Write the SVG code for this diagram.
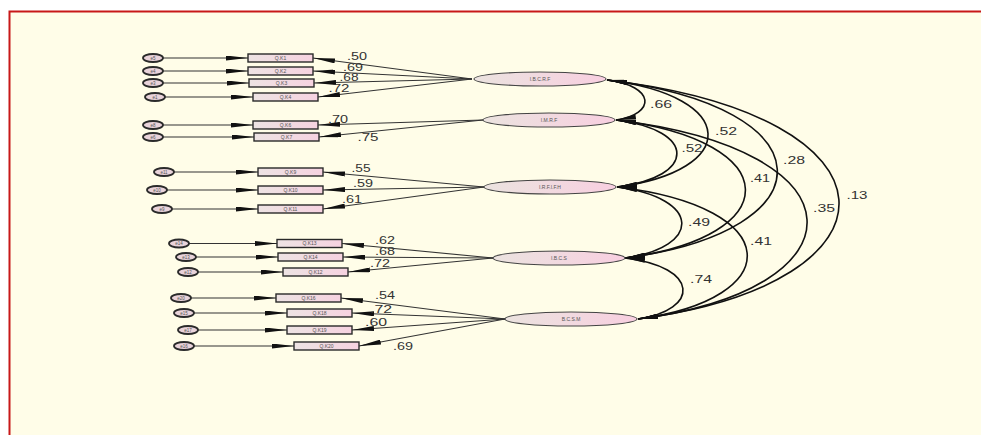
<svg xmlns="http://www.w3.org/2000/svg" width="981" height="435" viewBox="0 0 981 435">
<style>
.err{fill:#E9D3DA;stroke:#2a2a2a;stroke-width:1.8}
.obs{fill:url(#gb);stroke:#2a2a2a;stroke-width:1.4}
.lat{fill:url(#gl);stroke:#444;stroke-width:1.1}
.t{font-family:"Liberation Sans",Arial,sans-serif;fill:#555;text-anchor:middle}
.te{font-size:4.5px}
.tb{font-size:5px}
.tl{font-size:5px}
.c{font-family:"Liberation Sans",Arial,sans-serif;font-size:10px;fill:#333;text-anchor:middle}
.ln{stroke:#333;stroke-width:1.1;fill:none;marker-end:url(#ah)}
.arc{stroke:#111;stroke-width:1.6;fill:none;marker-start:url(#ah2);marker-end:url(#ah2)}
</style>
<defs>
<linearGradient id="gb" x1="0" y1="0" x2="1" y2="0"><stop offset="0" stop-color="#EDE3E3"/><stop offset="1" stop-color="#F6D2E0"/></linearGradient>
<linearGradient id="gl" x1="0" y1="0" x2="1" y2="0"><stop offset="0" stop-color="#EBE3DF"/><stop offset="1" stop-color="#F8CFE0"/></linearGradient>
<marker id="ah" viewBox="0 0 22 5" refX="22" refY="2.5" markerWidth="22" markerHeight="5" markerUnits="userSpaceOnUse" orient="auto"><path d="M0,0 L22,2.5 L0,5 z" fill="#111"/></marker>
<marker id="ah2" viewBox="0 0 20 5" refX="20" refY="2.5" markerWidth="20" markerHeight="5" markerUnits="userSpaceOnUse" orient="auto-start-reverse"><path d="M0,0 L20,2.5 L0,5 z" fill="#111"/></marker>
</defs>
<rect x="0" y="0" width="981" height="435" fill="#ffffff"/>
<rect x="9.5" y="11.5" width="980" height="430" fill="#FFFDE8" stroke="#C81818" stroke-width="2"/>

<g id="connectors">
<line class="ln" x1="163" y1="58" x2="248" y2="58"/>
<line class="ln" x1="163" y1="71" x2="248" y2="71"/>
<line class="ln" x1="163" y1="83" x2="249" y2="83"/>
<line class="ln" x1="165" y1="97" x2="253" y2="97"/>
<line class="ln" x1="163" y1="125" x2="253" y2="125"/>
<line class="ln" x1="163" y1="137" x2="254" y2="137"/>
<line class="ln" x1="174" y1="172" x2="258" y2="172"/>
<line class="ln" x1="167" y1="190" x2="258" y2="190"/>
<line class="ln" x1="172" y1="209" x2="258" y2="209"/>
<line class="ln" x1="189" y1="243.5" x2="277" y2="243.5"/>
<line class="ln" x1="196" y1="257" x2="278" y2="257"/>
<line class="ln" x1="198" y1="272" x2="283" y2="272"/>
<line class="ln" x1="191" y1="298" x2="276" y2="298"/>
<line class="ln" x1="194" y1="313" x2="287" y2="313"/>
<line class="ln" x1="198" y1="330" x2="287" y2="330"/>
<line class="ln" x1="194" y1="346" x2="294" y2="346"/>

<line class="ln" x1="472" y1="79" x2="313" y2="58"/>
<line class="ln" x1="472" y1="79" x2="313" y2="71"/>
<line class="ln" x1="472" y1="79" x2="314" y2="83"/>
<line class="ln" x1="472" y1="79" x2="318" y2="97"/>
<line class="ln" x1="483" y1="120" x2="318" y2="125"/>
<line class="ln" x1="483" y1="120" x2="319" y2="137"/>
<line class="ln" x1="484" y1="187" x2="323" y2="172"/>
<line class="ln" x1="484" y1="187" x2="323" y2="190"/>
<line class="ln" x1="484" y1="187" x2="323" y2="209"/>
<line class="ln" x1="493" y1="258" x2="342" y2="243.5"/>
<line class="ln" x1="493" y1="258" x2="343" y2="257"/>
<line class="ln" x1="493" y1="258" x2="348" y2="272"/>
<line class="ln" x1="505" y1="319" x2="341" y2="298"/>
<line class="ln" x1="505" y1="319" x2="352" y2="313"/>
<line class="ln" x1="505" y1="319" x2="352" y2="330"/>
<line class="ln" x1="505" y1="319" x2="359" y2="346"/>

<path class="arc" d="M607,80 C656,86 656,114 616,120"/>
<path class="arc" d="M607,80 C740,96 740,171 617,187"/>
<path class="arc" d="M616,120 C697,130 697,177 617,187"/>
<path class="arc" d="M607,80 C831,107 831,231 625,258"/>
<path class="arc" d="M616,120 C787,141 787,237 625,258"/>
<path class="arc" d="M617,187 C702,198 702,247 625,258"/>
<path class="arc" d="M607,80 C911,116 911,283 638,319"/>
<path class="arc" d="M616,120 C867,150 867,289 638,319"/>
<path class="arc" d="M617,187 C787,207 787,299 638,319"/>
<path class="arc" d="M625,258 C700,267 700,310 638,319"/>
</g>

<g id="labels">
<text class="c" x="357" y="60" textLength="20" lengthAdjust="spacingAndGlyphs">.50</text>
<text class="c" x="353" y="71" textLength="20" lengthAdjust="spacingAndGlyphs">.69</text>
<text class="c" x="349" y="81" textLength="19" lengthAdjust="spacingAndGlyphs">.68</text>
<text class="c" x="339" y="92" textLength="21" lengthAdjust="spacingAndGlyphs">.72</text>
<text class="c" x="338" y="123" textLength="20" lengthAdjust="spacingAndGlyphs">.70</text>
<text class="c" x="368" y="141" textLength="21" lengthAdjust="spacingAndGlyphs">.75</text>
<text class="c" x="361" y="172" textLength="19" lengthAdjust="spacingAndGlyphs">.55</text>
<text class="c" x="363" y="187" textLength="20" lengthAdjust="spacingAndGlyphs">.59</text>
<text class="c" x="352" y="203" textLength="20" lengthAdjust="spacingAndGlyphs">.61</text>
<text class="c" x="385" y="244" textLength="20" lengthAdjust="spacingAndGlyphs">.62</text>
<text class="c" x="385" y="255" textLength="20" lengthAdjust="spacingAndGlyphs">.68</text>
<text class="c" x="380" y="267" textLength="20" lengthAdjust="spacingAndGlyphs">.72</text>
<text class="c" x="385" y="299" textLength="20" lengthAdjust="spacingAndGlyphs">.54</text>
<text class="c" x="381" y="313" textLength="22" lengthAdjust="spacingAndGlyphs">.72</text>
<text class="c" x="376" y="326" textLength="22" lengthAdjust="spacingAndGlyphs">.60</text>
<text class="c" x="403" y="350" textLength="20" lengthAdjust="spacingAndGlyphs">.69</text>
<text class="c" x="661" y="108" textLength="22" lengthAdjust="spacingAndGlyphs">.66</text>
<text class="c" x="726" y="135" textLength="22" lengthAdjust="spacingAndGlyphs">.52</text>
<text class="c" x="692" y="152" textLength="21" lengthAdjust="spacingAndGlyphs">.52</text>
<text class="c" x="794" y="164" textLength="22" lengthAdjust="spacingAndGlyphs">.28</text>
<text class="c" x="760" y="182" textLength="20" lengthAdjust="spacingAndGlyphs">.41</text>
<text class="c" x="857" y="199" textLength="21" lengthAdjust="spacingAndGlyphs">.13</text>
<text class="c" x="824" y="212" textLength="22" lengthAdjust="spacingAndGlyphs">.35</text>
<text class="c" x="699" y="226" textLength="22" lengthAdjust="spacingAndGlyphs">.49</text>
<text class="c" x="761" y="245" textLength="22" lengthAdjust="spacingAndGlyphs">.41</text>
<text class="c" x="701" y="283" textLength="22" lengthAdjust="spacingAndGlyphs">.74</text>
</g>

<g id="e5"><ellipse class="err" cx="153" cy="58" rx="10" ry="4"/><text class="t te" x="153" y="59.6">e5</text></g>
<g id="e4"><ellipse class="err" cx="153" cy="71" rx="10" ry="4"/><text class="t te" x="153" y="72.6">e4</text></g>
<g id="e3"><ellipse class="err" cx="153" cy="83" rx="10" ry="4"/><text class="t te" x="153" y="84.6">e3</text></g>
<g id="e1"><ellipse class="err" cx="155" cy="97" rx="10" ry="4"/><text class="t te" x="155" y="98.6">e1</text></g>
<g id="e8"><ellipse class="err" cx="153" cy="125" rx="10" ry="4"/><text class="t te" x="153" y="126.6">e8</text></g>
<g id="e6"><ellipse class="err" cx="153" cy="137" rx="10" ry="4"/><text class="t te" x="153" y="138.6">e6</text></g>
<g id="e11"><ellipse class="err" cx="164" cy="172" rx="10" ry="4"/><text class="t te" x="164" y="173.6">e11</text></g>
<g id="e10"><ellipse class="err" cx="157" cy="190" rx="10" ry="4"/><text class="t te" x="157" y="191.6">e10</text></g>
<g id="e9"><ellipse class="err" cx="162" cy="209" rx="10" ry="4"/><text class="t te" x="162" y="210.6">e9</text></g>
<g id="e14"><ellipse class="err" cx="179" cy="243.5" rx="10" ry="4"/><text class="t te" x="179" y="245.1">e14</text></g>
<g id="e13"><ellipse class="err" cx="186" cy="257" rx="10" ry="4"/><text class="t te" x="186" y="258.6">e13</text></g>
<g id="e12"><ellipse class="err" cx="188" cy="272" rx="10" ry="4"/><text class="t te" x="188" y="273.6">e12</text></g>
<g id="e20"><ellipse class="err" cx="181" cy="298" rx="10" ry="4"/><text class="t te" x="181" y="299.6">e20</text></g>
<g id="e15"><ellipse class="err" cx="184" cy="313" rx="10" ry="4"/><text class="t te" x="184" y="314.6">e15</text></g>
<g id="e17"><ellipse class="err" cx="188" cy="330" rx="10" ry="4"/><text class="t te" x="188" y="331.6">e17</text></g>
<g id="e16"><ellipse class="err" cx="184" cy="346" rx="10" ry="4"/><text class="t te" x="184" y="347.6">e16</text></g>

<g id="QK1"><rect class="obs" x="248" y="54" width="65" height="8"/><text class="t tb" x="280.5" y="59.8">Q.K1</text></g>
<g id="QK2"><rect class="obs" x="248" y="67" width="65" height="8"/><text class="t tb" x="280.5" y="72.8">Q.K2</text></g>
<g id="QK3"><rect class="obs" x="249" y="79" width="65" height="8"/><text class="t tb" x="281.5" y="84.8">Q.K3</text></g>
<g id="QK4"><rect class="obs" x="253" y="93" width="65" height="8"/><text class="t tb" x="285.5" y="98.8">Q.K4</text></g>
<g id="QK6"><rect class="obs" x="253" y="121" width="65" height="8"/><text class="t tb" x="285.5" y="126.8">Q.K6</text></g>
<g id="QK7"><rect class="obs" x="254" y="133" width="65" height="8"/><text class="t tb" x="286.5" y="138.8">Q.K7</text></g>
<g id="QK9"><rect class="obs" x="258" y="168" width="65" height="8"/><text class="t tb" x="290.5" y="173.8">Q.K9</text></g>
<g id="QK10"><rect class="obs" x="258" y="186" width="65" height="8"/><text class="t tb" x="290.5" y="191.8">Q.K10</text></g>
<g id="QK11"><rect class="obs" x="258" y="205" width="65" height="8"/><text class="t tb" x="290.5" y="210.8">Q.K11</text></g>
<g id="QK13"><rect class="obs" x="277" y="239.5" width="65" height="8"/><text class="t tb" x="309.5" y="245.3">Q.K13</text></g>
<g id="QK14"><rect class="obs" x="278" y="253" width="65" height="8"/><text class="t tb" x="310.5" y="258.8">Q.K14</text></g>
<g id="QK12"><rect class="obs" x="283" y="268" width="65" height="8"/><text class="t tb" x="315.5" y="273.8">Q.K12</text></g>
<g id="QK16"><rect class="obs" x="276" y="294" width="65" height="8"/><text class="t tb" x="308.5" y="299.8">Q.K16</text></g>
<g id="QK18"><rect class="obs" x="287" y="309" width="65" height="8"/><text class="t tb" x="319.5" y="314.8">Q.K18</text></g>
<g id="QK19"><rect class="obs" x="287" y="326" width="65" height="8"/><text class="t tb" x="319.5" y="331.8">Q.K19</text></g>
<g id="QK20"><rect class="obs" x="294" y="342" width="65" height="8"/><text class="t tb" x="326.5" y="347.8">Q.K20</text></g>

<g id="IBCRF"><ellipse class="lat" cx="540" cy="79" rx="66" ry="7"/><text class="t tl" x="540" y="80.8">I.B.C.R.F</text></g>
<g id="IMRF"><ellipse class="lat" cx="549" cy="120" rx="66" ry="7"/><text class="t tl" x="549" y="121.8">I.M.R.F</text></g>
<g id="IRFIFH"><ellipse class="lat" cx="550" cy="187" rx="66" ry="7"/><text class="t tl" x="550" y="188.8">I.R.F.I.F.H</text></g>
<g id="IBCS"><ellipse class="lat" cx="559" cy="258" rx="66" ry="7"/><text class="t tl" x="559" y="259.8">I.B.C.S</text></g>
<g id="BCSM"><ellipse class="lat" cx="571" cy="319" rx="66" ry="7"/><text class="t tl" x="571" y="320.8">B.C.S.M</text></g>
</svg>
